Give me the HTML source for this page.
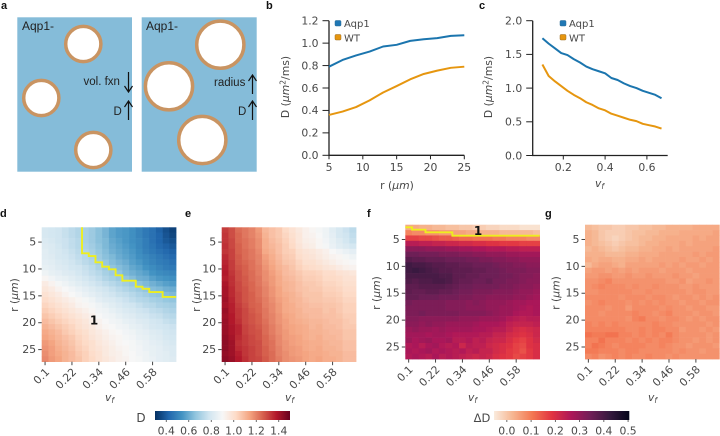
<!DOCTYPE html>
<html>
<head>
<meta charset="utf-8">
<style>
html,body{margin:0;padding:0;background:#fff;width:720px;height:436px;overflow:hidden}
svg{display:block;filter:blur(.35px)}
text{font-family:"DejaVu Sans","Liberation Sans",sans-serif;fill:#484848}
.tick{font-size:10.8px}
.hm{font-size:11px}
.ax{font-size:10.8px}
.lg{font-size:10px}
.pl{font-family:"Liberation Sans",sans-serif;font-weight:bold;font-size:11px;fill:#111}
.sc{font-family:"Liberation Sans",sans-serif;fill:#222}
</style>
</head>
<body>
<svg id="figure" width="720" height="436" viewBox="0 0 720 436" xmlns="http://www.w3.org/2000/svg">
<defs>
<linearGradient id="grad-d" x1="0" x2="1" y1="0" y2="0">
<stop offset="0" stop-color="#053061"/><stop offset=".1" stop-color="#2166ac"/><stop offset=".2" stop-color="#4393c3"/><stop offset=".3" stop-color="#92c5de"/><stop offset=".4" stop-color="#d1e5f0"/><stop offset=".5" stop-color="#f7f7f7"/><stop offset=".6" stop-color="#fddbc7"/><stop offset=".7" stop-color="#f4a582"/><stop offset=".8" stop-color="#d6604d"/><stop offset=".9" stop-color="#b2182b"/><stop offset="1" stop-color="#67001f"/>
</linearGradient>
<linearGradient id="grad-delta" x1="0" x2="1" y1="0" y2="0">
<stop offset="0" stop-color="#faebdd"/><stop offset=".143" stop-color="#f6b48f"/><stop offset=".286" stop-color="#f37651"/><stop offset=".429" stop-color="#e13342"/><stop offset=".571" stop-color="#ad1759"/><stop offset=".714" stop-color="#701f57"/><stop offset=".857" stop-color="#35193e"/><stop offset="1" stop-color="#03051a"/>
</linearGradient>
</defs>

<text class="pl" x="1" y="9">a</text>
<text class="pl" x="266" y="9">b</text>
<text class="pl" x="479" y="9">c</text>
<text class="pl" x="0" y="217">d</text>
<text class="pl" x="185" y="217">e</text>
<text class="pl" x="367" y="217">f</text>
<text class="pl" x="545" y="217">g</text>

<g>
<rect x="17.3" y="17.3" width="114.7" height="154.4" fill="#85bcd9"/>
<circle cx="83.3" cy="44" r="17.6" fill="#fff" stroke="#c99462" stroke-width="3.5"/>
<circle cx="41.3" cy="98" r="17.6" fill="#fff" stroke="#c99462" stroke-width="3.5"/>
<circle cx="93.3" cy="150" r="17.6" fill="#fff" stroke="#c99462" stroke-width="3.5"/>
<text class="sc" x="22" y="30" font-size="12">Aqp1-</text>
<text class="sc" x="83.5" y="85" font-size="11.5">vol. fxn</text>
<text class="sc" x="113.5" y="115" font-size="11.5">D</text>
<path d="M128.5 72V92M124.5 86L128.5 92L132.5 86M128.5 120V101M124.5 107L128.5 101L132.5 107" fill="none" stroke="#111" stroke-width="1.2"/>
</g>
<g>
<rect x="141.7" y="17.3" width="115" height="154.4" fill="#85bcd9"/>
<circle cx="220.3" cy="44.7" r="23.6" fill="#fff" stroke="#c99462" stroke-width="3.5"/>
<circle cx="169" cy="86.3" r="23.6" fill="#fff" stroke="#c99462" stroke-width="3.5"/>
<circle cx="202.3" cy="140" r="23.6" fill="#fff" stroke="#c99462" stroke-width="3.5"/>
<text class="sc" x="146" y="30" font-size="12">Aqp1-</text>
<text class="sc" x="214" y="86" font-size="11.5">radius</text>
<text class="sc" x="238" y="115" font-size="11.5">D</text>
<path d="M252.5 94V75M248.5 81L252.5 75L256.5 81M252.5 120V101M248.5 107L252.5 101L256.5 107" fill="none" stroke="#111" stroke-width="1.2"/>
</g>

<g>
<rect x="335" y="20.5" width="6" height="5.5" rx="1" fill="#1f77b4" stroke="#2a6a94" stroke-width=".5"/>
<text class="lg" x="344" y="27">Aqp1</text>
<rect x="335" y="34.5" width="6" height="5.5" rx="1" fill="#e6960f" stroke="#9a6a20" stroke-width=".5"/>
<text class="lg" x="344" y="41.5">WT</text>
</g>
<g>
<rect x="560" y="20.5" width="6" height="5.5" rx="1" fill="#1f77b4" stroke="#2a6a94" stroke-width=".5"/>
<text class="lg" x="569" y="27">Aqp1</text>
<rect x="560" y="34.5" width="6" height="5.5" rx="1" fill="#e6960f" stroke="#9a6a20" stroke-width=".5"/>
<text class="lg" x="569" y="41.5">WT</text>
</g>

<text class="ax" transform="translate(289,87) rotate(-90)" text-anchor="middle">D (<tspan font-style="italic">μm</tspan><tspan font-size="7.5" dy="-3.5">2</tspan><tspan dy="3.5">/ms)</tspan></text>
<text class="ax" x="397" y="189" text-anchor="middle">r (<tspan font-style="italic">μm</tspan>)</text>
<text class="ax" transform="translate(492,87) rotate(-90)" text-anchor="middle">D (<tspan font-style="italic">μm</tspan><tspan font-size="7.5" dy="-3.5">2</tspan><tspan dy="3.5">/ms)</tspan></text>
<text class="ax" x="595" y="187"><tspan font-style="italic">v</tspan><tspan font-size="7.5" font-style="italic" dy="2">f</tspan></text>

<text class="ax" transform="translate(18,295) rotate(-90)" text-anchor="middle">r (<tspan font-style="italic">μm</tspan>)</text>
<text class="ax" transform="translate(200,295) rotate(-90)" text-anchor="middle">r (<tspan font-style="italic">μm</tspan>)</text>
<text class="ax" transform="translate(380,293) rotate(-90)" text-anchor="middle">r (<tspan font-style="italic">μm</tspan>)</text>
<text class="ax" transform="translate(559.5,293) rotate(-90)" text-anchor="middle">r (<tspan font-style="italic">μm</tspan>)</text>
<text class="ax" x="105" y="401"><tspan font-style="italic">v</tspan><tspan font-size="7.5" font-style="italic" dy="2">f</tspan></text>
<text class="ax" x="285" y="401"><tspan font-style="italic">v</tspan><tspan font-size="7.5" font-style="italic" dy="2">f</tspan></text>
<text class="ax" x="468" y="401"><tspan font-style="italic">v</tspan><tspan font-size="7.5" font-style="italic" dy="2">f</tspan></text>
<text class="ax" x="648" y="401"><tspan font-style="italic">v</tspan><tspan font-size="7.5" font-style="italic" dy="2">f</tspan></text>

<rect x="155" y="411" width="135" height="9" fill="url(#grad-d)"/>
<rect x="494" y="411" width="135.3" height="9" fill="url(#grad-delta)"/>
<text x="141" y="422" font-size="12" text-anchor="middle">D</text>
<text x="482" y="422" font-size="11.5" text-anchor="middle">ΔD</text>
</svg>
<script>
const bRadius = [5, 7, 9, 11, 13, 15, 17, 19, 21, 23, 25];
const bAqp1 = [0.79, 0.85, 0.89, 0.925, 0.97, 0.985, 1.02, 1.035, 1.045, 1.065, 1.07];
const bWT = [0.36, 0.39, 0.43, 0.49, 0.56, 0.617, 0.677, 0.725, 0.755, 0.78, 0.79];
const bXTicks = [5, 10, 15, 20, 25];
const bYTicks = ['0.0', '0.2', '0.4', '0.6', '0.8', '1.0', '1.2'];

const cVf = [0.10, 0.13, 0.16, 0.19, 0.22, 0.25, 0.28, 0.31, 0.34, 0.37, 0.40, 0.43, 0.46, 0.49, 0.52, 0.55, 0.58, 0.61, 0.64, 0.67];
const cAqp1 = [1.74, 1.66, 1.59, 1.52, 1.49, 1.43, 1.38, 1.32, 1.28, 1.25, 1.22, 1.15, 1.12, 1.07, 1.03, 1.00, 0.96, 0.93, 0.90, 0.85];
const cWT = [1.35, 1.18, 1.10, 1.03, 0.96, 0.90, 0.85, 0.79, 0.75, 0.70, 0.67, 0.62, 0.59, 0.56, 0.53, 0.51, 0.47, 0.45, 0.43, 0.40];
const cXTicks = ['0.2', '0.4', '0.6'];
const cYTicks = ['0.0', '0.5', '1.0', '1.5', '2.0'];

const heatRadii = [2.75, 3.75, 4.75, 5.75, 6.75, 7.75, 8.75, 9.75, 10.75, 11.75, 12.75, 13.75, 14.75, 15.75, 16.75, 17.75, 18.75, 19.75, 20.75, 21.75, 22.75, 23.75, 24.75, 25.75, 26.75];
const heatVfTicks = ['0.1', '0.22', '0.34', '0.46', '0.58'];
const heatRTicks = [5, 10, 15, 20, 25];
const colorbarDTicks = ['0.4', '0.6', '0.8', '1.0', '1.2', '1.4'];
const colorbarDeltaTicks = ['0.0', '0.1', '0.2', '0.3', '0.4', '0.5'];

// contour r boundary per v_f column (blank = no contour)
const contourD = [null, null, null, null, null, null, 7.09, 7.6, 8.76, 9.58, 10.06, 11.18, 12.18, 12.18, 13.3, 13.7, 14.3, 14.3, 15.2, 15.2];
const contourF = [2.73, 3.18, 3.18, 3.66, 3.66, 3.66, 3.66, 4.29, 4.29, 4.29, 4.29, 4.29, 4.29, 4.29, 4.29, 4.29, 4.29, 4.29, 4.29, 4.29];

// values in hundredths of D (µm²/ms)
const heatD = [
[80,79,78,76,74,72,70,68,65,62,58,56,55,53,50,47,45,41,37,34],
[80,79,78,76,74,72,70,68,65,62,58,56,55,53,50,47,45,42,38,35],
[81,80,78,77,75,73,70,68,65,63,59,57,55,53,51,48,45,42,39,37],
[82,81,79,77,75,73,71,69,66,63,60,58,56,54,51,48,46,43,41,39],
[83,81,80,78,76,74,72,70,67,64,61,59,57,55,52,49,47,45,43,41],
[83,82,80,79,77,75,73,71,68,65,63,60,58,56,53,51,49,47,45,43],
[84,83,81,80,78,76,74,72,69,67,64,62,60,57,55,52,50,48,47,45],
[85,84,82,81,79,78,76,74,71,68,66,64,62,59,57,54,52,50,48,47],
[87,85,84,82,81,79,77,75,73,70,68,66,63,61,59,57,54,52,51,50],
[91,88,86,85,83,81,79,77,75,72,70,68,66,64,61,60,57,55,54,53],
[95,92,89,87,85,83,81,79,77,75,73,71,69,67,65,63,61,59,57,56],
[97,95,92,90,88,86,84,82,80,78,76,74,72,70,68,66,64,63,61,60],
[99,97,95,92,90,88,86,84,82,80,78,76,75,73,71,69,67,66,64,63],
[101,99,97,95,93,91,89,87,84,82,81,79,77,75,73,72,70,69,67,66],
[103,101,99,97,95,92,91,89,87,85,83,81,79,78,76,74,73,71,70,69],
[105,103,101,99,97,95,93,91,88,87,85,83,81,80,78,77,75,74,72,71],
[107,105,103,101,99,97,95,93,90,88,87,85,83,82,80,79,77,76,74,73],
[109,107,105,103,101,99,97,94,92,90,88,87,85,84,82,81,79,78,76,75],
[111,109,107,105,103,100,98,96,93,91,90,88,87,85,84,82,80,79,78,77],
[113,111,109,106,104,102,100,97,95,93,91,90,88,87,85,84,82,81,79,78],
[114,112,110,108,106,103,101,98,96,94,92,91,89,88,86,85,83,82,80,79],
[116,114,111,109,107,104,102,100,97,95,93,91,90,89,87,86,84,83,81,80],
[117,115,112,110,108,105,103,100,98,96,94,92,91,89,88,86,85,84,82,81],
[118,115,113,111,109,106,104,101,99,96,94,93,91,90,88,87,85,84,83,81],
[119,116,114,111,109,107,104,102,99,97,95,93,92,90,89,87,86,84,83,82]
];
const heatE = [
[132,129,124,122,120,116,110,108,106,102,99,96,93,91,89,87,83,80,77,74],
[133,129,125,122,120,117,111,108,106,103,100,97,93,92,90,87,84,80,78,75],
[133,130,125,123,121,118,112,109,107,104,101,97,94,93,91,88,85,82,79,76],
[134,130,126,123,121,118,112,110,108,105,102,98,95,94,91,89,86,83,81,79],
[133,131,126,124,122,119,113,111,108,105,104,100,98,97,95,93,90,88,86,84],
[135,131,127,124,122,120,115,112,109,106,105,101,99,98,96,94,92,91,89,87],
[136,132,127,125,123,120,116,113,110,107,106,103,100,100,98,96,94,92,91,90],
[137,132,128,126,123,121,117,114,111,109,107,104,102,101,100,98,97,95,93,92],
[138,133,129,126,124,121,118,115,112,109,108,106,104,104,103,101,101,99,98,97],
[137,134,129,127,124,122,118,116,113,110,109,107,105,105,104,102,102,101,99,99],
[139,134,130,127,125,122,119,116,113,111,110,108,106,106,105,103,103,102,100,100],
[140,135,130,128,125,123,120,117,114,111,110,108,107,106,106,104,104,103,101,101],
[140,135,131,128,126,123,120,117,114,112,111,109,107,107,107,105,105,104,102,102],
[141,136,131,128,126,124,121,118,115,113,111,110,108,107,107,106,106,105,103,103],
[140,137,132,129,126,125,121,119,116,113,112,110,109,108,108,107,107,106,104,104],
[142,137,133,130,127,125,122,119,116,113,112,111,109,109,109,107,108,106,104,104],
[141,138,133,130,128,126,122,120,117,114,113,111,110,109,109,108,108,107,105,105],
[142,138,134,130,128,126,123,120,117,115,113,112,111,110,110,109,108,108,106,105],
[142,139,136,131,129,127,124,121,118,115,114,113,112,110,111,109,109,108,106,106],
[142,139,136,131,129,128,124,121,118,116,114,113,112,111,111,110,109,109,107,107],
[143,140,135,132,130,128,125,122,119,116,115,114,112,111,112,110,110,109,107,107],
[144,141,134,132,130,129,125,123,119,117,115,114,113,112,112,111,110,110,108,108],
[144,141,135,133,131,129,126,123,120,117,116,115,113,112,113,111,111,110,108,108],
[143,141,137,133,131,129,126,124,120,118,116,115,114,113,113,112,111,111,109,109],
[144,142,138,134,131,130,127,124,121,118,117,116,114,113,114,112,112,111,109,109]
];
const heatF = [
[4,4,3,3,2,2,1,1,0,0,-1,-1,-2,-2,-3,-3,-3,-4,-4,-4],
[9,8,8,7,7,6,6,5,5,4,4,3,3,3,2,2,2,2,2,1],
[17,17,16,16,15,14,14,13,12,12,11,11,11,10,10,9,9,9,8,8],
[25,25,24,24,23,23,22,22,21,21,20,20,19,19,18,18,18,17,17,17],
[31,31,31,30,30,30,29,29,28,28,27,27,26,26,26,25,25,24,24,24],
[35,35,34,34,34,33,33,33,32,32,31,31,30,30,30,29,29,28,28,28],
[38,37,37,36,36,36,35,35,35,34,34,33,33,32,32,31,31,30,30,30],
[41,40,40,39,38,38,37,37,36,36,35,35,35,34,33,33,32,32,31,31],
[41,42,41,40,39,38,38,37,37,37,36,36,35,35,34,33,33,33,32,32],
[40,40,40,40,40,39,39,37,37,36,36,35,35,35,34,34,33,32,32,31],
[39,38,39,39,40,40,39,37,36,36,35,35,36,34,34,33,33,32,31,31],
[37,37,38,38,38,38,37,36,35,35,34,34,34,34,33,33,32,31,31,30],
[37,36,36,37,37,36,36,35,34,34,33,33,33,32,32,32,31,30,30,29],
[36,36,35,35,35,34,34,34,33,33,32,32,31,31,31,31,30,30,29,28],
[34,33,33,33,33,33,32,32,32,31,32,31,30,30,30,29,28,28,27,27],
[33,33,33,33,33,33,32,32,32,31,31,31,30,30,29,29,28,27,26,27],
[33,33,34,33,33,33,33,33,32,32,32,32,31,30,29,29,27,26,26,27],
[32,32,31,31,31,31,31,31,30,30,30,29,29,29,28,26,25,24,25,25],
[31,31,30,31,30,30,29,29,29,29,28,27,27,27,26,24,23,23,23,24],
[29,30,29,29,28,29,28,28,28,28,27,27,26,25,25,23,21,20,21,22],
[28,28,28,27,28,28,27,26,26,26,26,25,25,23,23,21,20,19,20,22],
[29,27,28,29,27,27,28,25,25,26,24,25,23,22,22,20,18,17,19,21],
[26,27,25,27,28,26,25,26,22,25,24,24,22,21,20,19,17,16,19,20],
[27,26,27,28,26,27,26,25,26,24,25,23,23,21,20,18,17,15,18,20],
[26,27,26,25,27,25,26,25,24,23,22,23,22,20,19,18,16,17,18,20]
];
const heatG = [
[2,1,0,0,-1,-1,0,0,1,1,2,2,3,3,3,3,4,4,4,4],
[3,2,0,-1,-1,-1,0,1,1,2,2,3,3,3,4,4,4,4,4,5],
[3,2,0,-1,-2,-1,0,1,2,2,3,3,4,4,4,4,5,4,5,5],
[3,2,1,0,-1,0,1,1,2,3,3,4,4,4,5,4,5,5,5,5],
[2,3,2,1,0,1,2,2,3,3,4,4,5,4,5,5,5,5,5,6],
[3,3,3,2,2,2,3,3,4,4,4,5,5,5,5,5,6,5,6,6],
[4,3,4,4,3,3,4,4,5,4,5,5,5,5,6,5,5,6,5,6],
[2,4,5,5,4,3,5,5,5,5,5,6,5,6,5,6,6,5,6,6],
[5,6,6,5,6,5,6,5,6,6,6,5,6,6,6,5,6,6,6,6],
[6,6,7,7,6,6,7,6,6,7,6,6,6,7,6,6,5,6,6,6],
[7,7,8,9,7,7,7,7,7,7,7,7,6,6,7,5,6,6,7,6],
[7,8,9,8,8,8,7,8,7,7,8,7,7,7,6,6,7,6,6,6],
[7,7,8,8,8,8,8,7,7,8,7,7,7,7,7,6,7,7,6,6],
[8,8,8,8,8,7,8,8,8,7,8,8,7,6,7,7,6,7,6,7],
[7,8,9,8,8,8,7,8,7,8,7,8,7,7,6,7,7,6,7,7],
[8,8,8,7,8,8,6,8,8,8,8,7,8,7,7,6,7,7,6,6],
[8,8,7,8,8,8,8,9,8,8,7,8,9,7,7,7,6,7,7,6],
[8,8,8,8,8,8,7,9,10,8,8,7,8,8,7,6,7,6,7,7],
[9,8,9,8,9,8,8,8,8,8,9,8,8,7,7,7,7,7,6,7],
[9,9,9,9,9,9,8,8,9,8,9,9,8,8,6,7,7,6,7,6],
[11,10,10,11,11,9,9,8,9,8,9,8,10,8,7,7,7,7,6,7],
[9,9,11,9,9,9,8,9,8,9,8,9,9,8,7,7,6,7,6,7],
[9,11,10,9,8,9,9,9,9,8,8,9,8,7,7,6,7,7,7,6],
[10,10,9,9,9,8,9,9,8,8,8,8,8,7,8,7,7,6,7,7],
[8,9,7,8,9,8,9,8,8,9,8,8,7,8,7,7,7,7,7,7]
];

const rdbuStops = [[5,48,97],[33,102,172],[67,147,195],[146,197,222],[209,229,240],[247,247,247],[253,219,199],[244,165,130],[214,96,77],[178,24,43],[103,0,31]];
const rocketRevStops = [[250,235,221],[246,180,143],[243,118,81],[225,51,66],[173,23,89],[112,31,87],[53,25,62],[3,5,26]];

const SVGNS = 'http://www.w3.org/2000/svg';
const figure = document.getElementById('figure');

function make(tag, attrs, parent) {
  const el = document.createElementNS(SVGNS, tag);
  for (const k in attrs) el.setAttribute(k, attrs[k]);
  (parent || figure).appendChild(el);
  return el;
}

function sampleMap(stops, t) {
  const c = Math.max(0, Math.min(1, t)) * (stops.length - 1);
  const i = Math.min(stops.length - 2, Math.floor(c));
  const f = c - i;
  const mix = [0, 1, 2].map(j => Math.round(stops[i][j] + (stops[i + 1][j] - stops[i][j]) * f));
  return 'rgb(' + mix.join(',') + ')';
}

function colorD(v) { return sampleMap(rdbuStops, (v - 0.3) / 1.2); }
function colorDelta(v) { return sampleMap(rocketRevStops, (v + 0.053) / 0.558); }

function drawLine(values, xs, xScale, yScale, color, name, group) {
  const pts = values.map((v, i) => xScale(xs[i]).toFixed(2) + ',' + yScale(v).toFixed(2)).join(' ');
  const line = make('polyline', {points: pts, fill: 'none', stroke: color, 'stroke-width': 2, 'stroke-linejoin': 'round'}, group);
  
  
}

function drawLineAxes(group, x0, x1, yBottom, yTop, xTickVals, yTickVals, xScale, yScale, prefix) {
  const axes = make('path', {d: 'M' + x0 + ' ' + yTop + 'V' + yBottom + 'H' + x1, fill: 'none', stroke: '#222', 'stroke-width': 1.3}, group);
  
  
  xTickVals.forEach(t => {
    const x = xScale(parseFloat(t));
    const mark = make('line', {x1: x, x2: x, y1: yBottom, y2: yBottom + 4, stroke: '#222', 'stroke-width': 1}, group);
    
    
    const label = make('text', {class: 'tick', x: x, y: yBottom + 15.5, 'text-anchor': 'middle'}, group);
    label.textContent = t;
    
    
  });
  yTickVals.forEach(t => {
    const y = yScale(parseFloat(t));
    const mark = make('line', {x1: x0 - 6.5, x2: x0, y1: y, y2: y, stroke: '#222', 'stroke-width': 1}, group);
    
    
    const label = make('text', {class: 'tick', x: x0 - 10.5, y: y + 3.8, 'text-anchor': 'end'}, group);
    label.textContent = t;
    
    
  });
}

const bX = r => 329 + (r - 5) * (464.3 - 329) / 20;
const bY = v => 155.3 - v * (155.3 - 20.7) / 1.2;
const groupB = make('g', {});


drawLineAxes(groupB, 329, 464.3, 155.3, 20.7, bXTicks, bYTicks, bX, bY, 'chart-b');
drawLine(bAqp1, bRadius, bX, bY, '#1b75ae', 'chart-b-aqp1-line', groupB);
drawLine(bWT, bRadius, bX, bY, '#e6960f', 'chart-b-wt-line', groupB);

const cX = v => 563.3 + (v - 0.2) * 209;
const cY = v => 155.5 - v * 67.4;
const groupC = make('g', {});


drawLineAxes(groupC, 532.7, 667.7, 155.5, 20.7, cXTicks, cYTicks, cX, cY, 'chart-c');
drawLine(cAqp1, cVf, cX, cY, '#1b75ae', 'chart-c-aqp1-line', groupC);
drawLine(cWT, cVf, cX, cY, '#e6960f', 'chart-c-wt-line', groupC);

function drawHeatmap(prefix, grid, colorFn, left, top) {
  const size = 134.4;
  const nCols = grid[0].length;
  const cw = size / nCols;
  const rowH = size / heatRadii.length;
  const rowY = r => top + (r - 2.25) * rowH;
  const group = make('g', {});
  
  
  grid.forEach((row, ri) => {
    row.forEach((value, ci) => {
      const cell = make('rect', {
        x: (left + ci * cw).toFixed(2),
        y: (rowY(heatRadii[ri]) - rowH / 2).toFixed(2),
        width: (cw + 0.3).toFixed(2),
        height: (rowH + 0.3).toFixed(2),
        fill: colorFn(value / 100)
      }, group);
      
      
    });
  });
  heatRTicks.forEach(r => {
    const y = rowY(r);
    const mark = make('line', {x1: left - 3.5, x2: left, y1: y, y2: y, stroke: '#444', 'stroke-width': 1}, group);
    
    
    const label = make('text', {class: 'hm', x: left - 5.5, y: y + 3.5, 'text-anchor': 'end'}, group);
    label.textContent = r;
    
    
  });
  heatVfTicks.forEach(t => {
    const x = left + ((parseFloat(t) - 0.1) / 0.03 + 0.5) * cw;
    const y = top + size;
    const mark = make('line', {x1: x, x2: x, y1: y, y2: y + 3.5, stroke: '#444', 'stroke-width': 1}, group);
    
    
    const label = make('text', {class: 'tick', 'text-anchor': 'end', transform: 'translate(' + (x + 5) + ',' + (y + 11) + ') rotate(-45)'}, group);
    label.textContent = t;
    
    
  });
  return {group, cw, rowY};
}

function drawContour(map, bounds, left, top, name) {
  const first = bounds.findIndex(v => v !== null);
  let d = 'M' + (left + first * map.cw).toFixed(2) + ' ' + (first === 0 ? map.rowY(bounds[0]) : top).toFixed(2);
  bounds.forEach((r, i) => {
    if (r === null) return;
    d += 'V' + map.rowY(r).toFixed(2) + 'H' + (left + (i + 1) * map.cw).toFixed(2);
  });
  const path = make('path', {d: d, fill: 'none', stroke: '#eeee1e', 'stroke-width': 1.9}, map.group);
  
  
}

const mapD = drawHeatmap('heatmap-d', heatD, colorD, 41.7, 227.3);
const mapE = drawHeatmap('heatmap-e', heatE, colorD, 221.7, 227.3);
const mapF = drawHeatmap('heatmap-f', heatF, colorDelta, 405.3, 224.7);
const mapG = drawHeatmap('heatmap-g', heatG, colorDelta, 585, 224.7);
drawContour(mapD, contourD, 41.7, 227.3, 'heatmap-d-contour');
drawContour(mapF, contourF, 405.3, 224.7, 'heatmap-f-contour');

const labelD = make('text', {x: 94, y: 324.5, 'text-anchor': 'middle', 'font-size': 12, 'font-weight': 'bold', style: 'fill:#111'});
labelD.textContent = '1';


const labelF = make('text', {x: 478, y: 235, 'text-anchor': 'middle', 'font-size': 12, 'font-weight': 'bold', style: 'fill:#111'});
labelF.textContent = '1';



function drawColorbarTicks(ticks, scale, prefix) {
  ticks.forEach(t => {
    const x = scale(parseFloat(t));
    const mark = make('line', {x1: x, x2: x, y1: 420, y2: 422, stroke: '#444', 'stroke-width': .8});
    
    
    const label = make('text', {class: 'tick', x: x, y: 434.5, 'text-anchor': 'middle'});
    label.textContent = t;
    
    
  });
}
drawColorbarTicks(colorbarDTicks, v => 155 + (v - 0.3) / 1.2 * 135, 'colorbar-d');
drawColorbarTicks(colorbarDeltaTicks, v => 494 + (v + 0.053) / 0.558 * 135.3, 'colorbar-delta-d');
</script>
</body>
</html>
